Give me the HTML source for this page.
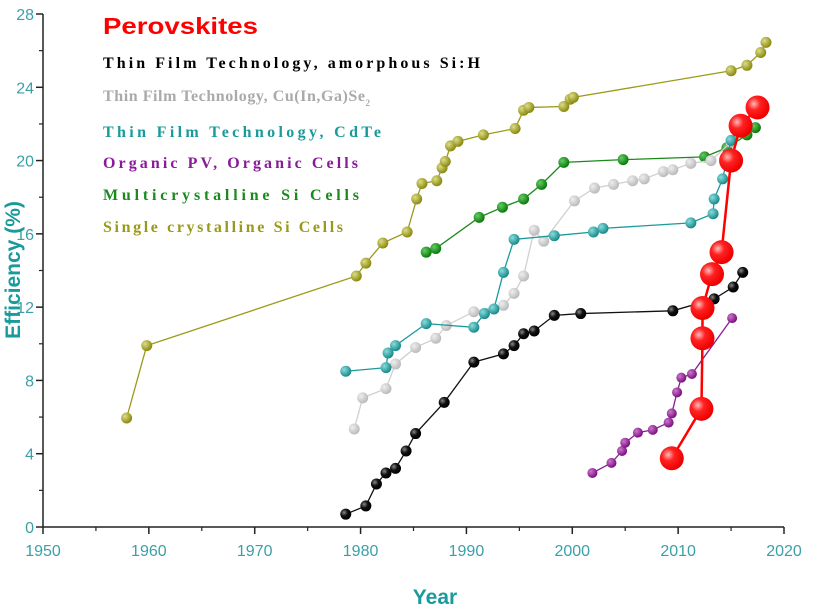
<!DOCTYPE html>
<html><head><meta charset="utf-8"><style>
body{margin:0;background:#fff;width:816px;height:613px;overflow:hidden}
svg{display:block}
</style></head><body>
<svg id="chart" width="816" height="613" font-family="Liberation Sans, sans-serif">
<defs>
<radialGradient id="gBlack" cx="35%" cy="35%" r="65%"><stop offset="0" stop-color="#888"/><stop offset="0.5" stop-color="#111"/><stop offset="1" stop-color="#000"/></radialGradient>
<radialGradient id="gGray" cx="35%" cy="35%" r="65%"><stop offset="0" stop-color="#eee"/><stop offset="1" stop-color="#bbb"/></radialGradient>
<radialGradient id="gTeal" cx="35%" cy="35%" r="65%"><stop offset="0" stop-color="#8dd"/><stop offset="1" stop-color="#1a8a8a"/></radialGradient>
<radialGradient id="gPurple" cx="35%" cy="35%" r="65%"><stop offset="0" stop-color="#c7c"/><stop offset="1" stop-color="#7a107f"/></radialGradient>
<radialGradient id="gGreen" cx="35%" cy="35%" r="65%"><stop offset="0" stop-color="#6c6"/><stop offset="1" stop-color="#0a7a0a"/></radialGradient>
<radialGradient id="gOlive" cx="35%" cy="35%" r="65%"><stop offset="0" stop-color="#dd8"/><stop offset="1" stop-color="#8a8a10"/></radialGradient>
<radialGradient id="gRed" cx="35%" cy="35%" r="65%"><stop offset="0" stop-color="#fbb"/><stop offset="0.4" stop-color="#f22"/><stop offset="1" stop-color="#e00"/></radialGradient>
</defs>
<g id="axes"></g>
<g id="series"></g>
<g id="legend" font-family="Liberation Serif, serif" font-size="16" font-weight="bold">
<text x="103" y="34" font-family="Liberation Sans, sans-serif" font-size="23" textLength="155" lengthAdjust="spacingAndGlyphs" fill="#f00">Perovskites</text>
<text x="103" y="68" textLength="377" lengthAdjust="spacing" fill="#000">Thin Film Technology, amorphous Si:H</text>
<text x="103" y="101" fill="#aaa"><tspan textLength="262" lengthAdjust="spacing">Thin Film Technology, Cu(In,Ga)Se</tspan><tspan font-size="9" dy="5">2</tspan></text>
<text x="103" y="137" textLength="278" lengthAdjust="spacing" fill="#1a9a9a">Thin Film Technology, CdTe</text>
<text x="103" y="168" textLength="255" lengthAdjust="spacing" fill="#8b1a9b">Organic PV, Organic Cells</text>
<text x="103" y="200" textLength="256" lengthAdjust="spacing" fill="#1a8a1a">Multicrystalline Si Cells</text>
<text x="103" y="232" textLength="240" lengthAdjust="spacing" fill="#9a9a1a">Single crystalline Si Cells</text>
</g>
<text x="0" y="0" transform="translate(20,270) rotate(-90)" text-anchor="middle" font-size="21" font-weight="bold" fill="#1a9a9a">Efficiency (%)</text>
<text x="435" y="604" text-anchor="middle" font-size="21" font-weight="bold" fill="#1a9a9a">Year</text>
</svg>
<script>
const xTicks=[1950,1960,1970,1980,1990,2000,2010,2020];
const yTicks=[0,4,8,12,16,20,24,28];
const singleYears=[1957.9,1959.8,1979.6,1980.5,1982.1,1984.4,1985.3,1985.8,1987.2,1987.7,1988,1988.5,1989.2,1991.6,1994.6,1995.4,1995.9,1999.2,1999.8,2000.1,2015,2016.5,2017.8,2018.3];
const singleVals=[5.95,9.9,13.7,14.4,15.5,16.1,17.9,18.75,18.9,19.6,19.95,20.8,21.05,21.4,21.75,22.75,22.9,22.95,23.35,23.45,24.9,25.2,25.9,26.45];
const multiYears=[1986.2,1987.1,1991.2,1993.4,1995.4,1997.1,1999.2,2004.8,2012.5,2014.6,2016.5,2017.3];
const multiVals=[15,15.2,16.9,17.45,17.9,18.7,19.9,20.05,20.2,20.7,21.4,21.8];
const cigsYears=[1979.4,1980.2,1982.4,1983.3,1985.2,1987.1,1988.1,1990.7,1993.5,1994.5,1995.4,1996.4,1997.3,2000.2,2002.1,2003.9,2005.7,2006.8,2008.6,2009.5,2011.2,2013.1,2015,2016];
const cigsVals=[5.35,7.05,7.55,8.9,9.8,10.3,11,11.75,12.1,12.75,13.7,16.2,15.6,17.8,18.5,18.7,18.9,19,19.4,19.5,19.85,20,21,22];
const cdteYears=[1978.6,1982.4,1982.6,1983.3,1986.2,1990.7,1991.7,1992.6,1993.5,1994.5,1998.3,2002,2002.9,2011.2,2013.3,2013.4,2014.2,2015,2015.8];
const cdteVals=[8.5,8.7,9.5,9.9,11.1,10.9,11.65,11.9,13.9,15.7,15.9,16.1,16.3,16.6,17.1,17.9,19,21.1,22];
const amorYears=[1978.6,1980.5,1981.5,1982.4,1983.3,1984.3,1985.2,1987.9,1990.7,1993.5,1994.5,1995.4,1996.4,1998.3,2000.8,2009.5,2013.4,2015.2,2016.1];
const amorVals=[0.7,1.15,2.35,2.95,3.2,4.15,5.1,6.8,9,9.45,9.9,10.55,10.7,11.55,11.65,11.8,12.45,13.1,13.9];
const orgYears=[2001.9,2003.7,2004.7,2005,2006.2,2007.6,2009.1,2009.4,2009.9,2010.3,2011.3,2015.1];
const orgVals=[2.95,3.5,4.15,4.6,5.15,5.3,5.7,6.2,7.35,8.15,8.35,11.4];
const perYears=[2009.4,2012.2,2012.3,2012.3,2013.2,2014.1,2015,2015.9,2017.5];
const perVals=[3.75,6.45,10.3,11.95,13.8,15,20,21.9,22.9];

const NS='http://www.w3.org/2000/svg';
const X0=43,X1=784,Y0=527,Y1=14;
function xs(v){return X0+(v-1950)/(2020-1950)*(X1-X0);}
function ys(v){return Y0-(v-0)/(28-0)*(Y0-Y1);}
function mk(tag,attrs,parent){const e=document.createElementNS(NS,tag);for(const k in attrs)e.setAttribute(k,attrs[k]);parent.appendChild(e);return e;}
const axes=document.getElementById('axes');
let l=mk('line',{x1:X0,y1:Y0,x2:X1,y2:Y0,stroke:'#222','stroke-width':1.5},axes);


l=mk('line',{x1:X0,y1:Y0,x2:X0,y2:Y1,stroke:'#222','stroke-width':1.5},axes);


xTicks.forEach((t,i)=>{
  mk('line',{x1:xs(t),y1:Y0,x2:xs(t),y2:Y0+7,stroke:'#222','stroke-width':1.5},axes);
  if(i<xTicks.length-1) mk('line',{x1:xs(t+5),y1:Y0,x2:xs(t+5),y2:Y0+4,stroke:'#222','stroke-width':1.2},axes);
  const tx=mk('text',{x:xs(t),y:Y0+29,'text-anchor':'middle','font-size':16,fill:'#3aa0a8'},axes);
  tx.textContent=t;
  
  
});
yTicks.forEach((t,i)=>{
  mk('line',{x1:X0-7,y1:ys(t),x2:X0,y2:ys(t),stroke:'#222','stroke-width':1.5},axes);
  if(i<yTicks.length-1) mk('line',{x1:X0-4,y1:ys(t+2),x2:X0,y2:ys(t+2),stroke:'#222','stroke-width':1.2},axes);
  const tx=mk('text',{x:X0-9,y:ys(t)+6,'text-anchor':'end','font-size':16,fill:'#3aa0a8'},axes);
  tx.textContent=t;
  
  
});
const sg=document.getElementById('series');
function series(name,xsArr,vs,color,grad,r,w){
  const g=mk('g',{},sg);
  
  
  const pts=xsArr.map((x,i)=>xs(x)+','+ys(vs[i])).join(' ');
  mk('polyline',{points:pts,fill:'none',stroke:color,'stroke-width':w},g);
  xsArr.forEach((x,i)=>{
    const c=mk('circle',{cx:xs(x),cy:ys(vs[i]),r:r,fill:'url(#'+grad+')'},g);
    
    
  });
}
series('single-crystalline-series',singleYears,singleVals,'#9a9a1a','gOlive',5.5,1.3);
series('multicrystalline-series',multiYears,multiVals,'#1a8a1a','gGreen',5.5,1.3);
series('cigs-series',cigsYears,cigsVals,'#d0d0d0','gGray',5.5,1.3);
series('cdte-series',cdteYears,cdteVals,'#1a9a9a','gTeal',5.5,1.3);
series('amorphous-si-series',amorYears,amorVals,'#111','gBlack',5.5,1.3);
series('organic-series',orgYears,orgVals,'#8b1a9b','gPurple',5,1.3);
series('perovskite-series',perYears,perVals,'#f00','gRed',12,2.5);
</script>
</body></html>
